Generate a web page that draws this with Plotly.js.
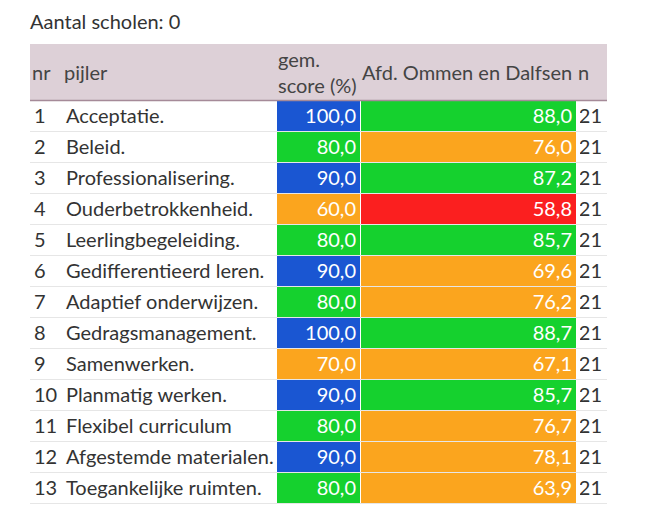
<!DOCTYPE html>
<html>
<head>
<meta charset="utf-8">
<script src="https://cdn.plot.ly/plotly-3.0.1.min.js"></script>
<style>
html,body{margin:0;padding:0;background:#fff;}
#chart{width:657px;height:512px;}
</style>
</head>
<body>
<div id="chart"></div>
<script>
const titleText = "Aantal scholen: 0";
const headers = ["nr", "pijler", "gem.<br>score (%)", "Afd. Ommen en Dalfsen", "n"];
const nrs = [1,2,3,4,5,6,7,8,9,10,11,12,13];
const pijlers = ["Acceptatie.", "Beleid.", "Professionalisering.", "Ouderbetrokkenheid.", "Leerlingbegeleiding.", "Gedifferentieerd leren.", "Adaptief onderwijzen.", "Gedragsmanagement.", "Samenwerken.", "Planmatig werken.", "Flexibel curriculum", "Afgestemde materialen.", "Toegankelijke ruimten."];
const gemScores = [100.0, 80.0, 90.0, 60.0, 80.0, 90.0, 80.0, 100.0, 70.0, 90.0, 80.0, 90.0, 80.0];
const afdScores = [88.0, 76.0, 87.2, 58.8, 85.7, 69.6, 76.2, 88.7, 67.1, 85.7, 76.7, 78.1, 63.9];
const nValues = [21,21,21,21,21,21,21,21,21,21,21,21,21];

function colorFor(v){
  if (v >= 90) return "#1a56d2";
  if (v >= 80) return "#15d12e";
  if (v >= 60) return "#fba51e";
  return "#fb1f1f";
}
function fmt(v){ return v.toFixed(1).replace(".", ","); }
function noWrap(s){ return String(s).replace(/ /g, "\u00a0"); }

const W = 657, H = 512;
const tblLeft = 30, tblRight = 607, tblTop = 44;
const colW = [32, 214, 84, 216, 31];
const headH = 56, rowH = 31;
const tblBottom = tblTop + headH + rowH * nrs.length;
const FS = 20;

const white = nrs.map(() => "#ffffff");
const blank = nrs.map(() => "");
const yDom = [1 - (tblBottom+3)/H, 1 - tblTop/H];

// background layer: fills only
const fillTrace = {
  type: "table",
  domain: {x: [tblLeft/W, tblRight/W], y: yDom},
  columnwidth: colW,
  header: {values: headers.map(() => ""), height: headH,
    fill: {color: "#ddd0d7"}, line: {color: "#ddd0d7", width: 0}},
  cells: {
    values: colW.map(() => blank),
    height: rowH,
    fill: {color: [white, white, gemScores.map(colorFor), afdScores.map(colorFor), white]},
    line: {color: "#ffffff", width: 1}
  }
};

// text layer: transparent; column edges offset so text sits ~4px from the visible cell edges
const tEdges = [26, 58, 284, 364, 580, 610];
const tColW = tEdges.slice(1).map((e, i) => e - tEdges[i]);
const textTrace = {
  type: "table",
  domain: {x: [tEdges[0]/W, tEdges[tEdges.length-1]/W], y: yDom},
  columnwidth: tColW,
  header: {values: headers.map(() => ""), height: headH,
    fill: {color: "rgba(0,0,0,0)"}, line: {color: "rgba(0,0,0,0)", width: 0}},
  cells: {
    values: [nrs, pijlers.map(noWrap), gemScores.map(fmt), afdScores.map(fmt), nValues],
    align: ["left","left","right","right","right"],
    height: rowH,
    fill: {color: "rgba(0,0,0,0)"},
    line: {color: "rgba(0,0,0,0)", width: 0},
    font: {family: "Lato", size: FS, color: ["#333333","#333333","#ffffff","#ffffff","#333333"]}
  }
};

const annotations = [];
let cx = tblLeft;
headers.forEach((h, i) => {
  annotations.push({text: h, xref: "paper", yref: "paper", x: cx/W, xanchor: "left",
    y: 1 - (tblTop + headH/2)/H, yanchor: "middle", align: "left", showarrow: false,
    font: {family: "Lato", size: FS, color: "#444444"}});
  cx += colW[i];
});

const shapes = [{type: "line", xref: "paper", yref: "paper", x0: tblLeft/W, x1: tblRight/W,
  y0: 1 - (tblTop + headH + 0.5)/H, y1: 1 - (tblTop + headH + 0.5)/H, line: {color: "#a58a98", width: 1.5}}];
for (let i = 1; i <= nrs.length; i++) {
  const yy = 1 - (tblTop + headH + i*rowH + 0.5)/H;
  shapes.push({type: "line", xref: "paper", yref: "paper", x0: tblLeft/W, x1: tblRight/W,
    y0: yy, y1: yy, line: {color: "#e6e6e6", width: 1}});
}

const layout = {
  width: W, height: H,
  margin: {l: 0, r: 0, t: 0, b: 0},
  paper_bgcolor: "#ffffff",
  title: {text: titleText, x: tblLeft/W, xanchor: "left", xref: "paper", y: 1 - 22/H, yanchor: "middle",
          font: {family: "Lato", size: FS, color: "#333333"}},
  annotations: annotations,
  shapes: shapes
};

Plotly.newPlot("chart", [fillTrace, textTrace], layout, {displayModeBar: false, staticPlot: true});
</script>
</body>
</html>
